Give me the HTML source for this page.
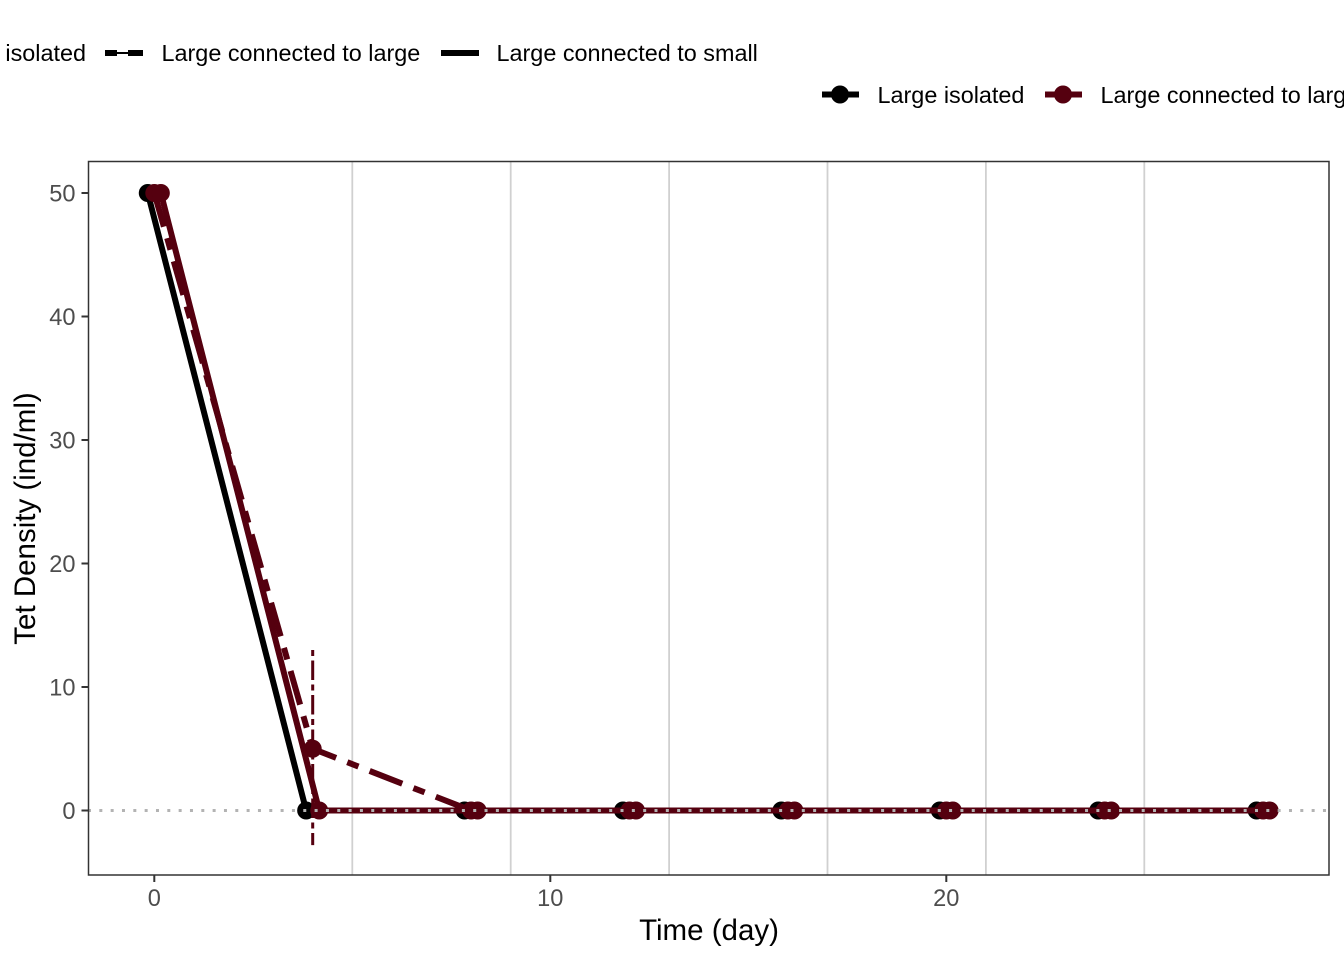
<!DOCTYPE html>
<html lang="en">
<head>
<meta charset="utf-8">
<title>Tet Density over Time</title>
<style>
html,body{margin:0;padding:0;background:#fff;width:1344px;height:960px;overflow:hidden}
svg{display:block}
text{font-family:"Liberation Sans",Arial,sans-serif}
.leg{font-size:23.4px;fill:#000}
.tick{font-size:23.6px;fill:#4d4d4d}
.title{font-size:29.5px;fill:#000}
</style>
</head>
<body>
<svg id="chart" xmlns="http://www.w3.org/2000/svg" width="1344" height="960" viewBox="0 0 1344 960">
  <rect x="0" y="0" width="1344" height="960" fill="#fff"/>
  <g>
    <text class="leg" x="86" y="61" text-anchor="end">Large isolated</text>
    <g>
      <rect x="105" y="50" width="12" height="6" fill="#000"/>
      <rect x="117" y="52" width="11" height="2" fill="#000"/>
      <rect x="128" y="50" width="15" height="6" fill="#000"/>
    </g>
    <text class="leg" x="161.5" y="61">Large connected to large</text>
    <rect x="441" y="50" width="38" height="6" fill="#000"/>
    <text class="leg" x="496.5" y="61">Large connected to small</text>
  </g>
  <g>
    <rect x="822" y="91.5" width="37" height="6" fill="#000"/>
    <circle cx="840" cy="94.5" r="9" fill="#000"/>
    <text class="leg" x="877.5" y="103">Large isolated</text>
    <rect x="1045" y="91.5" width="37" height="6" fill="#55000f"/>
    <circle cx="1063" cy="94.5" r="9" fill="#55000f"/>
    <text class="leg" x="1100.5" y="103">Large connected to large</text>
  </g>
  <g id="grid"></g>
  <g id="marks"></g>
  <line id="zero" stroke="#b3b3b3" stroke-width="3" stroke-dasharray="3 8.33"/>
  <rect x="88.5" y="161.5" width="1240.5" height="713.5" fill="none" stroke="#333" stroke-width="1.5"/>
  <g id="axes"></g>
  <text class="title" x="709" y="940" text-anchor="middle">Time (day)</text>
  <text class="title" transform="translate(35,518.5) rotate(-90)" text-anchor="middle">Tet Density (ind/ml)</text>
</svg>
<script>
const times = [0, 4, 8, 12, 16, 20, 24, 28];
const isolatedValues = [50, 0, 0, 0, 0, 0, 0, 0];
const toLargeValues = [50, 5, 0, 0, 0, 0, 0, 0];
const toSmallValues = [50, 0, 0, 0, 0, 0, 0, 0];
const errorTimes = [4];
const errorLow = [-2.8];
const errorHigh = [13];
const xTicks = [0, 10, 20];
const xTickLabels = ['0', '10', '20'];
const yTicks = [0, 10, 20, 30, 40, 50];
const yTickLabels = ['0', '10', '20', '30', '40', '50'];
const gridBreaks = [5, 9, 13, 17, 21, 25];

const NS = 'http://www.w3.org/2000/svg';
const PANEL = {left: 88.5, right: 1329, top: 161.5, bottom: 875};
function xScale(v) { return 154.3 + v * 39.6; }
function yScale(v) { return 810.5 - v * 12.35; }
function make(tag, attrs, parent) {
  const el = document.createElementNS(NS, tag);
  Object.keys(attrs).forEach(function (k) { el.setAttribute(k, attrs[k]); });
  parent.appendChild(el);
  return el;
}
const grid = document.getElementById('grid');
const marks = document.getElementById('marks');
const axes = document.getElementById('axes');

gridBreaks.forEach(function (b) {
  const el = make('line', {x1: xScale(b), x2: xScale(b), y1: PANEL.top, y2: PANEL.bottom, stroke: '#d0d0d0', 'stroke-width': 1.8}, grid);
  
  
});

function drawSeries(name, values, dodge, colour, dash) {
  const pts = times.map(function (t, i) { return xScale(t + dodge) + ',' + yScale(values[i]); }).join(' ');
  const line = make('polyline', {points: pts, fill: 'none', stroke: colour, 'stroke-width': 6, 'stroke-linejoin': 'round'}, marks);
  if (dash) { line.setAttribute('stroke-dasharray', dash); }
  
  
  times.forEach(function (t, i) {
    const c = make('circle', {cx: xScale(t + dodge), cy: yScale(values[i]), r: 9, fill: colour}, marks);
    
    
  });
}
drawSeries('isolated', isolatedValues, -0.165, '#000', null);
errorTimes.forEach(function (t, i) {
  const e = make('line', {x1: xScale(t), x2: xScale(t), y1: yScale(errorHigh[i]), y2: yScale(errorLow[i]), stroke: '#55000f', 'stroke-width': 3, 'stroke-dasharray': '6 4.5 19.5 4.5'}, marks);
  
  
});
drawSeries('to-large', toLargeValues, 0, '#55000f', '35 12 12 12');
drawSeries('to-small', toSmallValues, 0.165, '#55000f', null);

const zero = document.getElementById('zero');
zero.setAttribute('x1', PANEL.left - 0.5);
zero.setAttribute('x2', PANEL.right);
zero.setAttribute('y1', yScale(0));
zero.setAttribute('y2', yScale(0));

xTicks.forEach(function (v, i) {
  const t = make('line', {x1: xScale(v), x2: xScale(v), y1: PANEL.bottom, y2: PANEL.bottom + 7, stroke: '#333', 'stroke-width': 2}, axes);
  
  
  const l = make('text', {x: xScale(v), y: 906, 'text-anchor': 'middle', 'class': 'tick'}, axes);
  l.textContent = xTickLabels[i];
  
  
});
yTicks.forEach(function (v, i) {
  const t = make('line', {x1: PANEL.left - 7, x2: PANEL.left, y1: yScale(v), y2: yScale(v), stroke: '#333', 'stroke-width': 2}, axes);
  
  
  const l = make('text', {x: 75.5, y: yScale(v) + 8.4, 'text-anchor': 'end', 'class': 'tick'}, axes);
  l.textContent = yTickLabels[i];
  
  
});
</script>
</body>
</html>
